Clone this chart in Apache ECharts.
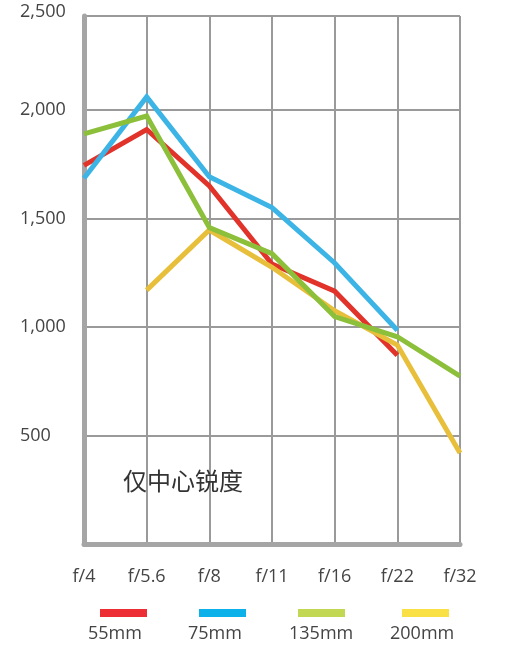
<!DOCTYPE html>
<html>
<head>
<meta charset="utf-8">
<script src="https://cdn.jsdelivr.net/npm/echarts@6/dist/echarts.min.js"></script>
<style>
html,body{margin:0;padding:0;background:#fff;}
#chart{width:505px;height:652px;}
</style>
</head>
<body>
<div id="chart"></div>
<script>
// 光圈档位
var apertures = ['f/4', 'f/5.6', 'f/8', 'f/11', 'f/16', 'f/22', 'f/32'];
// 各焦段中心锐度
var names = ['55mm', '75mm', '135mm', '200mm'];
var s55 = [1745, 1910, 1650, 1290, 1165, 870, null];
var s75 = [1685, 2060, 1692, 1550, 1295, 985, null];
var s135 = [1890, 1972, 1458, 1338, 1048, 955, 774];
var s200 = [null, 1170, 1447, 1275, 1075, 917, 419];
var yTicks = [500, 1000, 1500, 2000, 2500];
var note = '仅中心锐度';

var lineColors = ['#e2332b', '#3cb4e6', '#8cbf3a', '#e8bf3a'];
var legendColors = ['#ee2e35', '#0db1ea', '#c2d752', '#f8e045'];
var legendLeft = [78, 178, 279, 380];
var barShift = [12, 11, 9, 12];
var zs = [2, 4, 5, 3];

var chart = echarts.init(document.getElementById('chart'));
var FONT = "'Open Sans', sans-serif";

var allData = [s55, s75, s135, s200];
var series = allData.map(function (d, i) {
    return {
        name: names[i],
        type: 'line',
        data: d,
        z: zs[i],
        symbol: 'none',
        color: lineColors[i],
        lineStyle: {width: 5, color: lineColors[i], join: 'miter'},
        silent: true
    };
});

// 图例：色条在上，文字在下
var rich = {t: {fontSize: 18, color: '#444', lineHeight: 26, fontFamily: FONT}};
names.forEach(function (n, i) {
    rich['s' + i] = {width: barShift[i], height: 8, lineHeight: 16};
    rich['b' + i] = {backgroundColor: legendColors[i], width: 47, height: 8, lineHeight: 16};
});
var legends = names.map(function (n, i) {
    return {
        data: [n],
        left: legendLeft[i],
        top: 602,
        icon: 'rect',
        itemWidth: 0,
        itemHeight: 0,
        selectedMode: false,
        formatter: function (name) {
            return '{s' + i + '|}{b' + i + '|}\n{t|' + name + '}';
        },
        textStyle: {rich: rich}
    };
});

var yMax = 2433; // 顶端网格只到 2,433 左右

var option = {
    animation: false,
    backgroundColor: '#fff',
    title: {
        text: note,
        left: 118,
        top: 464,
        textStyle: {fontSize: 24, fontWeight: 'normal', color: '#333', fontFamily: "'Noto Sans CJK SC', sans-serif"}
    },
    legend: legends,
    grid: {left: 84, right: 45, top: 16, bottom: 108},
    xAxis: {
        type: 'category',
        data: apertures,
        boundaryGap: false,
        axisLine: {lineStyle: {color: '#a5a5a5', width: 5}},
        axisTick: {show: false},
        axisLabel: {fontSize: 18, color: '#444', margin: 24, fontFamily: FONT},
        splitLine: {show: true, lineStyle: {color: '#9a9a9a', width: 2}}
    },
    yAxis: {
        type: 'value',
        min: 0,
        max: yMax,
        interval: 500,
        axisLine: {show: true, lineStyle: {color: '#a5a5a5', width: 5}},
        axisTick: {show: false},
        axisLabel: {
            fontSize: 18, color: '#444', margin: 64, align: 'left', fontFamily: FONT,
            showMinLabel: false, showMaxLabel: false,
            formatter: function (v) { return yTicks.indexOf(v) < 0 ? '' : v.toLocaleString('en-US'); }
        },
        splitLine: {show: true, lineStyle: {color: '#9a9a9a', width: 2}}
    },
    graphic: [{
        type: 'text',
        left: 20,
        top: 3,
        style: {text: yTicks[4].toLocaleString('en-US'), fontSize: 18, fill: '#444', fontFamily: FONT}
    }],
    series: series
};
chart.setOption(option);
</script>
</body>
</html>
